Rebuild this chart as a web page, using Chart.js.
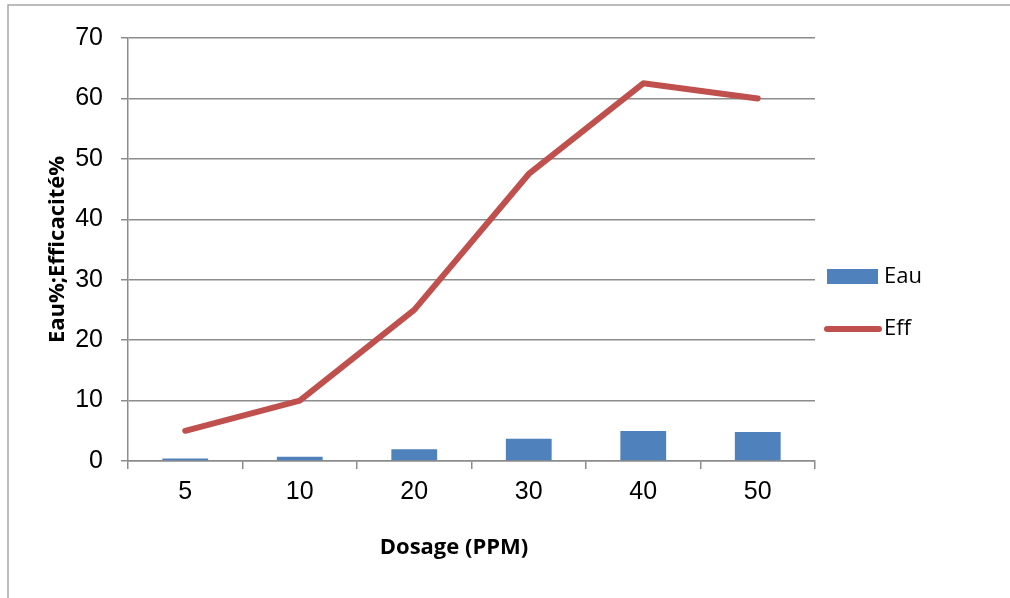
<!DOCTYPE html>
<html>
<head>
<meta charset="utf-8">
<script src="https://cdn.jsdelivr.net/npm/chart.js@4/dist/chart.umd.min.js"></script>
<style>
  html, body { margin: 0; padding: 0; background: #fff; }
  #wrap { width: 1010px; height: 598px; position: relative; }
</style>
</head>
<body>
<div id="wrap"><canvas id="grafico" width="1010" height="598"></canvas></div>
<script>
// dados
var dosages = ['5', '10', '20', '30', '40', '50']
var eauValues = [0.4, 0.7, 1.95, 3.7, 4.95, 4.8]
var effValues = [5, 10, 25, 47.5, 62.5, 60]
var yTicks = [0, 10, 20, 30, 40, 50, 60, 70]

var xTitle = 'Dosage (PPM)'
var yTitle = 'Eau%;Efficacité%'

var gridGray = '#8c8c8c'
var titleFont = 'bold 22px "Open Sans"'
var tickFont = { family: '"Liberation Sans", Arial', size: 25 }

// moldura + titulos + legenda feitos a mao
var extras = {
    id: 'extras',
    beforeDraw: function(chart) {
        var ctx = chart.ctx
        ctx.save()
        ctx.fillStyle = '#fff'
        ctx.fillRect(0, 0, chart.width, chart.height)
        ctx.strokeStyle = '#a6a6a6'
        ctx.lineWidth = 1.5
        ctx.beginPath()
        ctx.moveTo(8, 598)
        ctx.lineTo(8, 5)
        ctx.lineTo(1010, 5)
        ctx.stroke()
        ctx.restore()
    },
    afterDraw: function(chart) {
        var ctx = chart.ctx
        var area = chart.chartArea
        ctx.save()
        ctx.fillStyle = '#000'
        ctx.font = titleFont
        ctx.textAlign = 'center'
        ctx.textBaseline = 'middle'
        ctx.fillText(xTitle, 454, 548)
        ctx.translate(58, (area.top + area.bottom) / 2)
        ctx.rotate(-Math.PI / 2)
        ctx.fillText(yTitle, 0, 0)
        ctx.restore()

        // legenda
        var ds = chart.data.datasets
        ctx.save()
        ctx.font = '22px "Open Sans"'
        ctx.textAlign = 'left'
        ctx.textBaseline = 'middle'
        ctx.fillStyle = ds[1].backgroundColor
        ctx.fillRect(827, 269, 51, 15)
        ctx.fillStyle = '#000'
        ctx.fillText(ds[1].label, 884, 277)
        ctx.strokeStyle = ds[0].borderColor
        ctx.lineWidth = 6
        ctx.lineCap = 'round'
        ctx.beginPath()
        ctx.moveTo(827, 329)
        ctx.lineTo(879, 329)
        ctx.stroke()
        ctx.fillStyle = '#000'
        ctx.fillText(ds[0].label, 884, 329)
        ctx.restore()
    }
}

var ctx = document.getElementById('grafico').getContext('2d')
var grafico = new Chart(ctx, {
    type: 'bar',
    data: {
        labels: dosages,
        datasets: [
            {
                type: 'line',
                label: 'Eff',
                data: effValues,
                borderColor: '#c0504d',
                backgroundColor: '#c0504d',
                borderWidth: 6,
                borderCapStyle: 'round',
                borderJoinStyle: 'round',
                pointRadius: 0,
                tension: 0,
                order: 0
            },
            {
                type: 'bar',
                label: 'Eau',
                data: eauValues,
                backgroundColor: '#4f81bd',
                borderWidth: 0,
                categoryPercentage: 1,
                barPercentage: 0.4,
                order: 1
            }
        ]
    },
    options: {
        responsive: false,
        animation: false,
        devicePixelRatio: 1,
        layout: {
            padding: { left: 0, right: 195, top: 38, bottom: 0 }
        },
        plugins: {
            legend: { display: false },
            tooltip: { enabled: false }
        },
        scales: {
            x: {
                offset: true,
                grid: {
                    offset: true,
                    drawOnChartArea: false,
                    drawTicks: true,
                    tickLength: 8,
                    color: gridGray,
                    lineWidth: 1.5
                },
                border: { color: gridGray, width: 1.5 },
                ticks: {
                    color: '#000',
                    padding: 8,
                    font: tickFont
                },
                afterFit: function(scale) { scale.height = 137 }
            },
            y: {
                min: 0,
                max: 70,
                afterBuildTicks: function(scale) {
                    scale.ticks = yTicks.map(function(v) { return { value: v } })
                },
                grid: {
                    color: gridGray,
                    lineWidth: 1.5,
                    drawTicks: true,
                    tickLength: 7
                },
                border: { color: gridGray, width: 1.5 },
                ticks: {
                    color: '#000',
                    padding: 18,
                    font: tickFont
                },
                afterFit: function(scale) { scale.width = 128 }
            }
        }
    },
    plugins: [extras]
})
</script>
</body>
</html>
